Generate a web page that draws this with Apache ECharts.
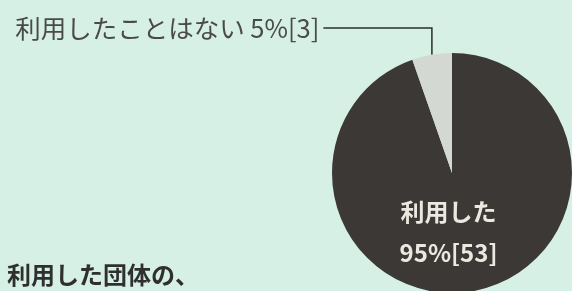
<!DOCTYPE html>
<html>
<head>
<meta charset="utf-8">
<script src="https://cdn.jsdelivr.net/npm/echarts@6/dist/echarts.min.js"></script>
<style>
  html, body { margin: 0; padding: 0; background: #d6f0e6; }
  #chart { width: 572px; height: 291px; }
</style>
</head>
<body>
<div id="chart"></div>
<script>
// 利用状況
const names = ['利用した', '利用したことはない']
const counts = [53, 3]
const colors = ['#3b3836', '#d3d8d3']

const chart = echarts.init(document.getElementById('chart'))

const pieData = names.map((n, i) => {
  const item = { name: n, value: counts[i], itemStyle: { color: colors[i] } }
  if (i === 0) {
    // 大きい方は円の中に表示
    item.label = {
      position: 'inside',
      formatter: '{b}\n{d}%[{c}]',
      color: '#ebe8df',
      fontSize: 24,
      lineHeight: 41,
      fontWeight: 'bold'
    }
    item.labelLine = { show: false }
  }
  return item
})

chart.setOption({
  backgroundColor: '#d6f0e6',
  textStyle: { fontFamily: '"Noto Sans CJK JP", "Noto Sans", sans-serif' },
  title: {
    text: '利用した団体の、',
    left: 2,
    top: 258,
    textStyle: { fontSize: 24, fontWeight: 'bold', color: '#2f2f2f' }
  },
  series: [
    {
      type: 'pie',
      center: [452, 173],
      radius: 120,
      startAngle: 90,
      clockwise: true,
      percentPrecision: 0,
      animation: false,
      silent: true,
      label: {
        position: 'outside',
        formatter: '{b} {d}%[{c}]',
        color: '#4a4a4a',
        fontSize: 25.5,
        overflow: 'none',
        distanceToLabelLine: 4
      },
      labelLine: {
        length: 27,
        length2: 104,
        lineStyle: { color: '#2c2c2c', width: 1.5 }
      },
      labelLayout: function (params) {
        if (params.dataIndex === 0) {
          return { dx: -14, dy: -3 }
        }
        const pts = params.labelLinePoints
        if (!pts) return {}
        // 縦線をまっすぐに
        return {
          labelLinePoints: [pts[0], [pts[0][0], pts[1][1]], [pts[2][0], pts[1][1]]]
        }
      },
      data: pieData
    }
  ]
})
</script>
</body>
</html>
